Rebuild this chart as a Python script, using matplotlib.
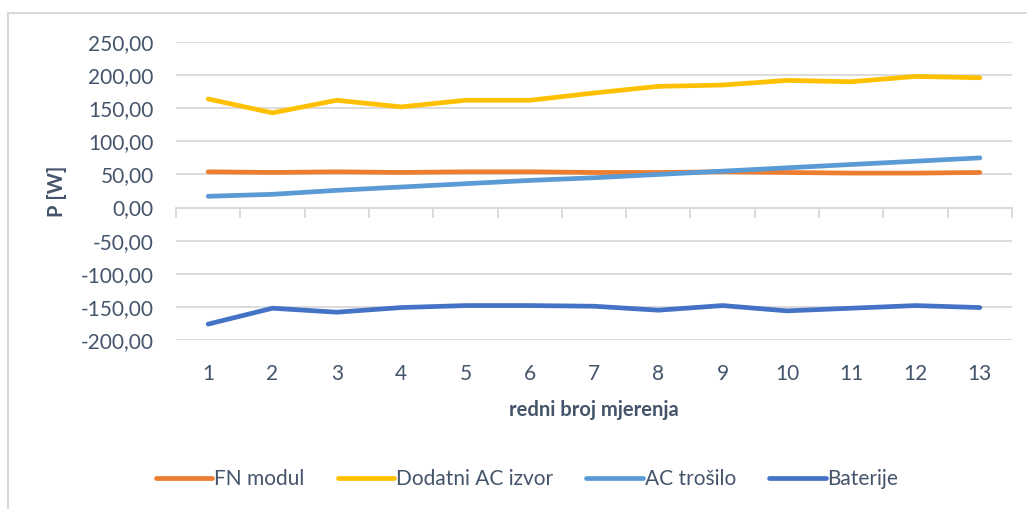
import matplotlib
matplotlib.use("Agg")
import matplotlib.pyplot as plt
from matplotlib.patches import Rectangle
from matplotlib.ticker import FuncFormatter, FixedLocator

plt.rcParams['font.family'] = ['Lato', 'DejaVu Sans']

measurements = list(range(1, 14))
fn_modul = [54, 53, 54, 53, 54, 54, 53, 53, 54, 53, 52, 52, 53]
dodatni_ac = [164, 143, 162, 152, 162, 162, 173, 183, 185, 192, 190, 198, 196]
ac_trosilo = [17, 20, 26, 31, 36, 41, 45, 50, 55, 60, 65, 70, 75]
baterije = [-176, -152, -158, -151, -148, -148, -149, -155, -148, -156, -152, -148, -151]

series_names = ["FN modul", "Dodatni AC izvor", "AC trošilo", "Baterije"]
series_colors = ["#ED7D31", "#FFC000", "#5B9BD5", "#4472C4"]
y_ticks = [-200, -150, -100, -50, 0, 50, 100, 150, 200, 250]

text_color = "#44546A"
grid_color = "#D9D9D9"

fig = plt.figure(figsize=(10.27, 5.09), dpi=100)
fig.patches.append(Rectangle((8 / 1027, -0.1), 1.2, 1 - 13 / 509 + 0.1,
                             transform=fig.transFigure, fill=False,
                             edgecolor=grid_color, linewidth=1.5, zorder=0))

ax = fig.add_axes([176 / 1027, 1 - 340 / 509, (1012 - 176) / 1027, (340 - 42) / 509])

for name, vals, col in zip(series_names, [fn_modul, dodatni_ac, ac_trosilo, baterije], series_colors):
    ax.plot(measurements, vals, color=col, linewidth=3.4, solid_capstyle='round',
            solid_joinstyle='round', label=name, zorder=3)

ax.set_xlim(0.5, 13.5)
ax.set_ylim(-200, 250)
ax.set_yticks(y_ticks)
ax.yaxis.set_major_formatter(FuncFormatter(lambda v, p: f"{v:.2f}".replace(".", ",")))
ax.yaxis.grid(True, color=grid_color, linewidth=1.3)
ax.set_axisbelow(True)
ax.tick_params(axis='y', length=0, labelsize=15, labelcolor=text_color, pad=16)

for s in ['left', 'right', 'top']:
    ax.spines[s].set_visible(False)
ax.spines['bottom'].set_position(('data', 0))
ax.spines['bottom'].set_color(grid_color)
ax.spines['bottom'].set_linewidth(1.3)
ax.xaxis.set_major_locator(FixedLocator([b + 0.5 for b in range(0, 14)]))
ax.tick_params(axis='x', which='major', direction='out', length=7, color=grid_color,
               width=1.3, labelbottom=False)

sec = ax.secondary_xaxis('bottom')
sec.set_xticks(measurements)
sec.set_xticklabels([str(m) for m in measurements])
sec.spines['bottom'].set_visible(False)
sec.tick_params(length=0, labelsize=15, labelcolor=text_color, pad=17)
sec.set_xlabel("redni broj mjerenja", fontsize=14.5, fontweight='bold', color=text_color, labelpad=12)

ax.set_ylabel("P [W]", fontsize=14.5, fontweight='bold', color=text_color, labelpad=10)

leg = fig.legend(loc='center', bbox_to_anchor=(527 / 1027, 1 - 479 / 509), ncol=4,
                 frameon=False, fontsize=15, handlelength=2.7, handletextpad=0.1,
                 columnspacing=1.6)
for t in leg.get_texts():
    t.set_color(text_color)
for h in leg.get_lines():
    h.set_linewidth(3.4)
    h.set_solid_capstyle('round')

fig.savefig("out.png", dpi=100, facecolor='white')
